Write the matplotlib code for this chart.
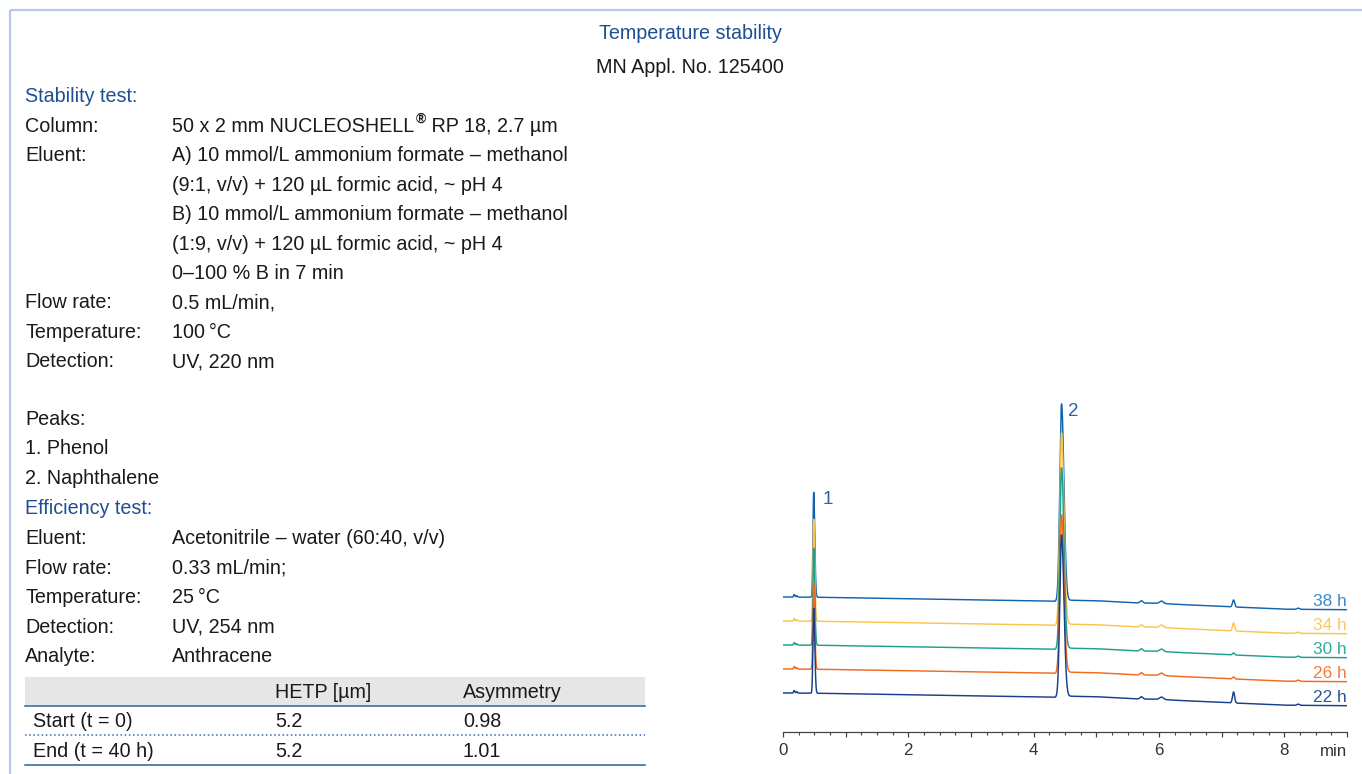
import numpy as np
import matplotlib
matplotlib.use("Agg")
import matplotlib.pyplot as plt
from matplotlib.patches import Rectangle
from matplotlib.ticker import MultipleLocator, FuncFormatter

# ---------------- text content ----------------
title = "Temperature stability"
subtitle = "MN Appl. No. 125400"

stability_rows = [
    ("Column:", "50 x 2 mm NUCLEOSHELL"),
    ("Eluent:", "A) 10 mmol/L ammonium formate \u2013 methanol"),
    ("", "(9:1, v/v) + 120 \u00b5L formic acid, ~ pH 4"),
    ("", "B) 10 mmol/L ammonium formate \u2013 methanol"),
    ("", "(1:9, v/v) + 120 \u00b5L formic acid, ~ pH 4"),
    ("", "0\u2013100 % B in 7 min"),
    ("Flow rate:", "0.5 mL/min,"),
    ("Temperature:", "100\u2009\u00b0C"),
    ("Detection:", "UV, 220 nm"),
]
column_suffix = " RP 18, 2.7 \u00b5m"
peak_names = ["1. Phenol", "2. Naphthalene"]
efficiency_rows = [
    ("Eluent:", "Acetonitrile \u2013 water (60:40, v/v)"),
    ("Flow rate:", "0.33 mL/min;"),
    ("Temperature:", "25\u2009\u00b0C"),
    ("Detection:", "UV, 254 nm"),
    ("Analyte:", "Anthracene"),
]
table_header = ["", "HETP [\u00b5m]", "Asymmetry"]
table_rows = ["Start (t = 0)", "End (t = 40 h)"]
hetp_values = [5.2, 5.2]
asymmetry_values = [0.98, 1.01]

# ---------------- chromatogram data ----------------
run_hours = ["22 h", "26 h", "30 h", "34 h", "38 h"]
trace_colors = ["#173f8a", "#f26a1f", "#1fa08f", "#fcc44c", "#1262ae"]
label_colors = ["#2b5596", "#f47a38", "#2eab9d", "#f9c862", "#3d88c9"]
trace_offsets = [39, 63, 87, 111, 135]          # signal offset of each run
phenol_rt, naphthalene_rt = 0.49, 4.445           # retention times [min]
phenol_height = [85, 86, 97, 102, 105]
naphthalene_height = [162, 158, 181, 192, 197]
impurity_72_height = [11, 2, 2, 8, 7]
# minor peaks common to all runs: (time [min], height, width [min])
minor_peaks = [(0.18, 2.6, 0.010), (0.22, 1.4, 0.010), (5.72, 2.2, 0.022),
               (6.04, 2.4, 0.030), (8.22, 1.2, 0.020)]
# baseline drift knots (time [min], signal drop)
drift_t = [0, 0.6, 1.3, 2.5, 3.5, 4.35, 4.56, 5.0, 5.6, 6.0, 6.3, 7.0, 8.0, 9.0]
drift_v = [0, 0.3, 1.0, 2.3, 3.3, 4.3, 3.2, 3.7, 5.8, 6.3, 7.4, 9.4, 12.2, 12.7]

BLUE_TXT = "#1f4f92"
TXT = "#1a1a1a"
FONT = "Liberation Sans"
FS = 14.2

plt.rcParams["font.family"] = [FONT, "DejaVu Sans"]

W, H = 1362, 774
fig = plt.figure(figsize=(W / 100, H / 100), dpi=100)
fig.patch.set_facecolor("white")

# full-figure layer in pixel units for the text block and frame
lay = fig.add_axes([0, 0, 1, 1])
lay.set_xlim(0, W)
lay.set_ylim(H, 0)
lay.axis("off")

frame_c = "#b5c8e6"
lay.plot([10, 10], [10, H], color=frame_c, lw=1.6, solid_capstyle="butt")
lay.plot([10, W], [10, 10], color=frame_c, lw=1.6, solid_capstyle="butt")

CAP = 6.9  # half cap-height in pixels, to place text by its visual centre


def put(x, y, s, color=TXT, ha="left", size=FS, **kw):
    return lay.text(x, y + CAP * size / FS, s, color=color, ha=ha,
                    va="baseline", fontsize=size, **kw)


put(690, 32, title, color=BLUE_TXT, ha="center")
put(690, 66, subtitle, ha="center")

put(25, 95, "Stability test:", color=BLUE_TXT)
y = 125
for i, (k, v) in enumerate(stability_rows):
    if k:
        put(25, y, k)
    t = put(172, y, v)
    if i == 0:
        fig.canvas.draw()
        bb = t.get_window_extent()
        reg = put(bb.x1 + 1, y - 7.5, "\u00ae", size=10, fontweight="bold")
        fig.canvas.draw()
        bb2 = reg.get_window_extent()
        put(bb2.x1, y, column_suffix)
    y += 29.4
y = 418
put(25, y, "Peaks:")
for name in peak_names:
    y += 29.6
    put(25, y, name)
put(25, 507, "Efficiency test:", color=BLUE_TXT)
y = 537
for k, v in efficiency_rows:
    put(25, y, k)
    put(172, y, v)
    y += 29.6

# efficiency table
tx0, tx1 = 25, 645
col_x = [33, 275, 463]
line_c = "#2d5c9c"
lay.add_patch(Rectangle((tx0, 677), tx1 - tx0, 28, facecolor="#e6e6e6",
                        edgecolor="none"))
for cx, h in zip(col_x, table_header):
    if h:
        put(cx, 691, h)
lay.plot([tx0, tx1], [705.5, 705.5], color=line_c, lw=1.1)
row_y = [720, 750]
for ry, name, hv, av in zip(row_y, table_rows, hetp_values, asymmetry_values):
    put(col_x[0], ry, name)
    put(col_x[1], ry, f"{hv:.1f}")
    put(col_x[2], ry, f"{av:.2f}")
lay.plot([tx0, tx1], [734.5, 734.5], color="#5a84c0", lw=1.3,
         linestyle=(0, (0.9, 1.4)))
lay.plot([tx0, tx1], [765, 765], color=line_c, lw=1.1)

# ---------------- chromatogram ----------------
ax_l, ax_r, ax_b, ax_t = 783, 1347, 732, 395
ax = fig.add_axes([ax_l / W, (H - ax_b) / H, (ax_r - ax_l) / W,
                   (ax_b - ax_t) / H])
ax.set_xlim(0, 9)
ax.set_ylim(0, ax_b - ax_t)
ax.patch.set_alpha(0)

time = np.arange(0, 9.0005, 0.002)


def gauss(t0, h, s):
    return h * np.exp(-0.5 * ((time - t0) / s) ** 2)


def tailed(t0, h, s, tail):
    # asymmetric gaussian: wider on the trailing side
    sig = np.where(time < t0, s, s * tail)
    return h * np.exp(-0.5 * ((time - t0) / sig) ** 2)


drift = np.interp(time, drift_t, drift_v)
minor = sum(gauss(t0, h, s) for t0, h, s in minor_peaks)

for i in reversed(range(len(run_hours))):
    sig = (trace_offsets[i] - drift + minor
           + tailed(phenol_rt, phenol_height[i], 0.012, 1.4)
           + tailed(naphthalene_rt, naphthalene_height[i], 0.028, 1.35)
           + gauss(7.19, impurity_72_height[i], 0.017))
    ax.plot(time, sig, color=trace_colors[i], lw=1.05, zorder=10 - i,
            solid_joinstyle="round")
    end_val = trace_offsets[i] - drift_v[-1]
    ax.text(9, end_val + 8, run_hours[i], color=label_colors[i],
            ha="right", va="center", fontsize=12.4)

ax.text(phenol_rt + 0.14, trace_offsets[-1] + phenol_height[-1] - 7, "1",
        color="#2c62aa", fontsize=13.5, ha="left", va="center")
ax.text(naphthalene_rt + 0.1, trace_offsets[-1] - 4.4
        + naphthalene_height[-1] - 7, "2",
        color="#2c62aa", fontsize=13.5, ha="left", va="center")

for s in ["left", "right", "top"]:
    ax.spines[s].set_visible(False)
ax.spines["bottom"].set_color("#444444")
ax.spines["bottom"].set_linewidth(0.9)
ax.set_yticks([])
ax.xaxis.set_major_locator(MultipleLocator(1))
ax.xaxis.set_minor_locator(MultipleLocator(0.25))
ax.xaxis.set_major_formatter(
    FuncFormatter(lambda v, p: f"{int(round(v))}" if int(round(v)) % 2 == 0
                  and v < 8.5 else ""))
ax.tick_params(axis="x", which="major", length=3.6, width=0.9,
               color="#444444", labelsize=12.2, labelcolor="#333333", pad=4)
ax.tick_params(axis="x", which="minor", length=1.9, width=0.8,
               color="#444444")
ax.annotate("min", xy=(9, 0), xycoords="data", xytext=(0, -20),
            textcoords="offset pixels", ha="right", va="center",
            fontsize=12.2, color="#333333")

fig.savefig("out.png", dpi=100, facecolor="white")
